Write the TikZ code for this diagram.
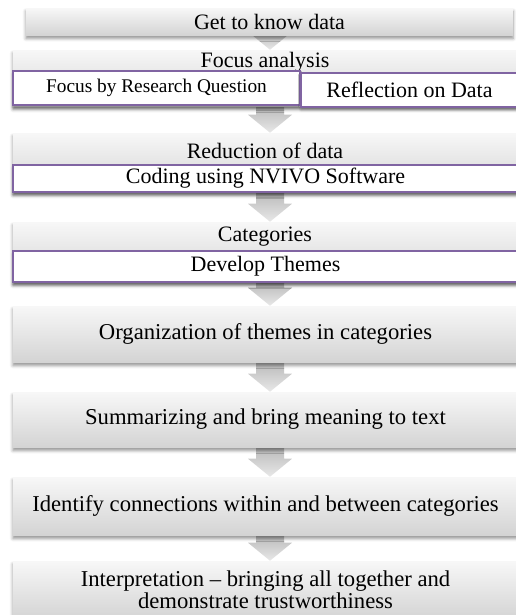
\documentclass[tikz,border=0pt]{standalone}
\usepackage{fontspec}
\setmainfont{Liberation Serif}
\usepackage{tikz}
\usetikzlibrary{shadows.blur, calc, backgrounds, positioning}
\definecolor{stagepurple}{RGB}{128,100,162}
\newcommand{\px}{0.75pt}
\newcommand{\stagefont}{\fontsize{16.5}{15}\selectfont}
\newcommand{\bigstagefont}{\fontsize{17}{15}\selectfont}
% block arrow from the bottom of #1 down to the top of #2
\newcommand{\stagearrow}[2]{%
  \shade[flow] ($(#1.south -| #2.north)+(-9.5,0)$)
    -- ($(#1.south -| #2.north)+(18.5,0)$)
    -- ($(#2.north)+(18.5,-18)$) -- ($(#2.north)+(26.5,-18)$)
    -- ($(#2.north)+(4.5,0)$)
    -- ($(#2.north)+(-17.5,-18)$) -- ($(#2.north)+(-9.5,-18)$) -- cycle;}

\begin{document}
\begin{tikzpicture}[
  x=\px, y=-\px,
  stage/.style={rectangle, inner sep=0pt, minimum width=505*\px,
    top color=black!3, bottom color=black!17, font=\bigstagefont, align=center,
    blur shadow={shadow xshift=0pt, shadow yshift=-2.5pt,
      shadow blur radius=2.5pt, shadow opacity=45}},
  subbox/.style={rectangle, inner sep=0pt, draw=stagepurple, line width=1.1pt,
    fill=white, font=\stagefont,
    blur shadow={shadow xshift=0pt, shadow yshift=-2pt,
      shadow blur radius=2pt, shadow opacity=40}},
  lbl/.style={font=\stagefont, inner sep=0pt},
  flow/.style={top color=black!27, bottom color=black!9}
]
  \useasboundingbox (0,0) rectangle (516,615);

  %% stages
  \node[stage, font=\stagefont, minimum width=487*\px, minimum height=27*\px]
    (getdata) at (269.5,21.5) {Get to know data};

  \node[stage, minimum height=56*\px] (focus) at (265.5,78) {};
  \node[lbl] (focuslbl) at (265,62) {Focus analysis};
  \node[subbox, minimum width=287*\px, minimum height=34*\px,
    font=\fontsize{14.5}{15}\selectfont] (question) at (156.5,88)
    {Focus by Research Question};
  \node[subbox, minimum width=217*\px, minimum height=34*\px] (reflect)
    at (409.5,90) {Reflection on Data};

  \node[stage, minimum height=59*\px] (reduction) at (265.5,162.5) {};
  \node[lbl] (reductionlbl) at (265,151) {Reduction of data};
  \node[subbox, minimum width=505*\px, minimum height=27*\px] (coding)
    at (265.5,178.5) {Coding using NVIVO Software};

  \node[stage, minimum height=60*\px] (categories) at (265.5,252) {};
  \node[lbl] (categorieslbl) at (265,237) {Categories};
  \node[subbox, minimum width=505*\px, minimum height=31*\px] (themes)
    at (265.5,266.5) {Develop Themes};

  \node[stage, minimum height=56*\px] (organize) at (265.5,334)
    {Organization of themes in categories};
  \node[stage, minimum height=55*\px] (summarize) at (265.5,419.5)
    {Summarizing and bring meaning to text};
  \node[stage, minimum height=58*\px] (connect) at (265.5,506)
    {Identify connections within and between categories};
  \node[stage, minimum height=58*\px] (interpret) at (265.5,590)
    {Interpretation -- bringing all together and\\demonstrate trustworthiness};

  %% arrows between stages
  \begin{scope}[on background layer]
    \stagearrow{getdata}{focus}
    \stagearrow{focus}{reduction}
    \stagearrow{reduction}{categories}
    \stagearrow{categories}{organize}
    \stagearrow{organize}{summarize}
    \stagearrow{summarize}{connect}
    \stagearrow{connect}{interpret}
  \end{scope}
\end{tikzpicture}
\end{document}
